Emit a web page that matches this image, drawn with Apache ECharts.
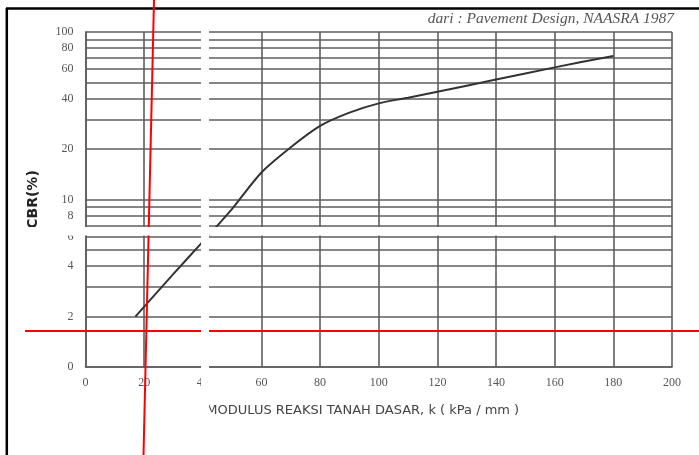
<!DOCTYPE html>
<html>
<head>
<meta charset="utf-8">
<script src="https://cdn.jsdelivr.net/npm/echarts@6/dist/echarts.min.js"></script>
<style>
html,body{margin:0;padding:0;background:#fff;}
#chart{width:699px;height:455px;}
</style>
</head>
<body>
<div id="chart"></div>
<script>
// Data
var modulusK = [17, 30, 40, 50, 60, 70, 80, 90, 100, 110, 120, 140, 160, 180];
var cbrValues = [2, 3.6, 5.6, 8.8, 14.5, 20.5, 27.5, 33, 37.5, 40.5, 44, 52, 61.5, 72];
var xTicks = [0, 20, 40, 60, 80, 100, 120, 140, 160, 180, 200];
var yMinorGrid = [2, 3, 4, 5, 6, 7, 8, 9, 20, 30, 40, 50, 60, 70, 80, 90];
var yMinorLabels = [2, 4, 6, 8, 20, 40, 60, 80];
var yAxisLabelMap = {1: '0', 10: '10', 100: '100'};
var sourceText = 'dari : Pavement Design, NAASRA 1987';
var xTitle = 'MODULUS REAKSI TANAH DASAR, k ( kPa / mm )';
var yTitle = 'CBR(%)';

var gridColor = '#5e5e5e';
var labelFont = 'Liberation Serif';

var pairs = modulusK.map(function (k, i) { return [k, cbrValues[i]]; });

var markData = yMinorGrid.map(function (v) {
  var show = yMinorLabels.indexOf(v) >= 0;
  return {
    yAxis: v,
    label: {
      show: show,
      position: 'start',
      distance: 12,
      formatter: String(v),
      color: '#555',
      fontFamily: labelFont,
      fontSize: 12
    }
  };
});

var chart = echarts.init(document.getElementById('chart'), null, {renderer: 'canvas'});
chart.setOption({
  backgroundColor: '#fff',
  animation: false,
  grid: {left: 85.5, right: 27, top: 32, bottom: 88, containLabel: false},
  xAxis: {
    type: 'value',
    min: 0, max: 200, interval: 20,
    name: xTitle,
    nameLocation: 'middle',
    nameGap: 37,
    nameTextStyle: {fontFamily: 'DejaVu Sans', fontSize: 13, color: '#444', padding: [0, 32, 0, 0]},
    axisLine: {show: true, lineStyle: {color: gridColor, width: 1.6}},
    axisTick: {show: false},
    axisLabel: {margin: 10, color: '#555', fontFamily: labelFont, fontSize: 12},
    splitLine: {show: true, lineStyle: {color: gridColor, width: 1.6}}
  },
  yAxis: {
    type: 'log',
    logBase: 10,
    min: 1, max: 100,
    name: yTitle,
    nameLocation: 'middle',
    nameGap: 45,
    nameTextStyle: {fontFamily: 'DejaVu Sans', fontSize: 14, color: '#222', fontWeight: 'bold'},
    axisLine: {show: true, lineStyle: {color: gridColor, width: 1.6}},
    axisTick: {show: false},
    axisLabel: {
      margin: 12, color: '#555', fontFamily: labelFont, fontSize: 12,
      formatter: function (v) { return yAxisLabelMap[Math.round(v)] || ''; }
    },
    splitLine: {show: true, lineStyle: {color: gridColor, width: 1.6}}
  },
  series: [{
    type: 'line',
    data: pairs,
    smooth: 0.3,
    symbol: 'none',
    lineStyle: {color: '#333', width: 2},
    z: 5,
    markLine: {
      silent: true,
      symbol: ['none', 'none'],
      animation: false,
      lineStyle: {type: 'solid', color: gridColor, width: 1.6},
      emphasis: {disabled: true},
      data: markData
    }
  }],
  graphic: [
    {type: 'text', right: 25, top: 11, z: 10,
     style: {text: sourceText, fontFamily: labelFont, fontStyle: 'italic', fontSize: 15.5, fill: '#555'}},
    {type: 'line', z: 20, shape: {x1: 6, y1: 8.5, x2: 699, y2: 8.5}, style: {stroke: '#000', lineWidth: 2.5}},
    {type: 'line', z: 20, shape: {x1: 6.8, y1: 8, x2: 6.8, y2: 455}, style: {stroke: '#000', lineWidth: 2.5}},
    {type: 'line', z: 30, shape: {x1: 154, y1: 0, x2: 143.5, y2: 455}, style: {stroke: '#ff0000', lineWidth: 2}},
    {type: 'line', z: 30, shape: {x1: 25, y1: 331, x2: 699, y2: 331}, style: {stroke: '#ff0000', lineWidth: 2}},
    {type: 'rect', z: 40, shape: {x: 201, y: 10, width: 8, height: 414}, style: {fill: '#fff'}},
    {type: 'rect', z: 40, shape: {x: 25, y: 227, width: 563, height: 8.5}, style: {fill: '#fff'}}
  ]
});
</script>
</body>
</html>
